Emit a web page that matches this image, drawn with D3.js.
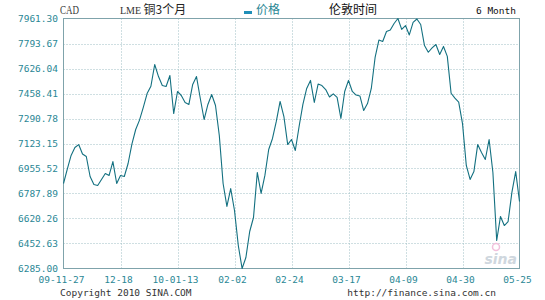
<!DOCTYPE html>
<html>
<head>
<meta charset="utf-8">
<script src="https://cdn.jsdelivr.net/npm/d3@7.9.0/dist/d3.min.js"></script>
<style>
  body { margin: 0; background: #fff; }
  svg text { font-family: "DejaVu Sans Mono", monospace; }
</style>
</head>
<body>
<svg id="chart" width="545" height="300"></svg>
<script>
// x tick labels, one every 15 trading days
const xLabels = ['09-11-27', '12-18', '10-01-13', '02-02', '02-24', '03-17', '04-09', '04-30', '05-25'];
const xTickIdx = [0, 15, 30, 45, 60, 75, 90, 105, 120];

const yTicks = [6285.00, 6452.63, 6620.26, 6787.89, 6955.52, 7123.15, 7290.78, 7458.41, 7626.04, 7793.67, 7961.30];

// LME copper 3-month, daily close
const prices = [
  6855, 6952, 7043, 7096, 7116, 7053, 7036, 6902, 6848, 6842,
  6882, 6922, 6909, 7002, 6855, 6909, 6902, 6989, 7119, 7217,
  7280, 7365, 7458, 7507, 7653, 7572, 7512, 7505, 7579, 7324,
  7472, 7445, 7398, 7385, 7519, 7572, 7425, 7284, 7385, 7452,
  7378, 7177, 6855, 6701, 6821, 6674, 6439, 6285, 6359, 6533,
  6627, 6929, 6788, 6909, 7083, 7157, 7271, 7405, 7304, 7116,
  7150, 7076, 7237, 7385, 7492, 7546, 7398, 7522, 7512, 7485,
  7435, 7456, 7432, 7291, 7472, 7546, 7472, 7448, 7442, 7344,
  7391, 7492, 7700, 7817, 7807, 7874, 7884, 7928, 7961.3, 7888,
  7914, 7851, 7935, 7958, 7921, 7780, 7735, 7764, 7787, 7720,
  7774, 7707, 7460, 7427, 7401, 7257, 6976, 6882, 6935, 7116,
  7063, 7016, 7150, 6929, 6473, 6634, 6573, 6600, 6795, 6935,
  6734
];

const svg = d3.select('#chart');
const plotL = 63.5, plotR = 519.5, plotT = 18.5, plotB = 268.5;

const x = d3.scaleLinear().domain([0, prices.length - 1]).range([plotL, plotR]);
const y = d3.scaleLinear().domain([yTicks[0], yTicks[yTicks.length - 1]]).range([plotB, plotT]);

const teal = '#2a8795';
const gridColor = '#9fbfc4';

// grid
svg.append('g').selectAll('line')
  .data(yTicks.slice(1, -1))
  .join('line')
  .attr('x1', plotL).attr('x2', plotR)
  .attr('y1', d => Math.round(y(d)) + 0.5).attr('y2', d => Math.round(y(d)) + 0.5)
  .attr('stroke', gridColor)
  .attr('stroke-dasharray', '1,2');

svg.append('g').selectAll('line')
  .data(xTickIdx.slice(1, -1))
  .join('line')
  .attr('x1', d => Math.round(x(d)) + 0.5).attr('x2', d => Math.round(x(d)) + 0.5)
  .attr('y1', plotT).attr('y2', plotB)
  .attr('stroke', gridColor)
  .attr('stroke-dasharray', '1,2');

// frame
svg.append('rect')
  .attr('x', plotL).attr('y', plotT)
  .attr('width', plotR - plotL).attr('height', plotB - plotT)
  .attr('fill', 'none')
  .attr('stroke', '#7fa3ab');

// watermark
svg.append('circle')
  .attr('cx', 496).attr('cy', 247).attr('r', 3.5)
  .attr('fill', 'none').attr('stroke', '#f2c0dc').attr('stroke-width', 1.5);
svg.append('text')
  .attr('x', 517).attr('y', 264)
  .attr('text-anchor', 'end')
  .style('font-family', '"DejaVu Sans", sans-serif')
  .style('font-style', 'italic')
  .style('font-weight', 'bold')
  .style('font-size', '14px')
  .attr('fill', '#cfd7de')
  .text('sina');

// price line
const line = d3.line()
  .x((d, i) => x(i))
  .y(d => y(d));

svg.append('path')
  .datum(prices)
  .attr('d', line)
  .attr('fill', 'none')
  .attr('stroke', '#137080')
  .attr('stroke-width', 1.1)
  .attr('stroke-linejoin', 'round');

// y labels
svg.append('g').selectAll('text')
  .data(yTicks)
  .join('text')
  .attr('x', 58)
  .attr('y', d => y(d) + 3.5)
  .attr('text-anchor', 'end')
  .attr('fill', teal)
  .style('font-size', '9.5px')
  .text(d => d.toFixed(2));

// x labels
svg.append('g').selectAll('text')
  .data(xTickIdx)
  .join('text')
  .attr('x', d => x(d) - 2)
  .attr('y', 283)
  .attr('text-anchor', 'middle')
  .attr('fill', teal)
  .style('font-size', '9.5px')
  .text((d, i) => xLabels[i]);

// header
const header = svg.append('g');
header.append('text')
  .attr('x', 60).attr('y', 14)
  .attr('textLength', 19).attr('lengthAdjust', 'spacingAndGlyphs')
  .style('font-family', '"Liberation Serif", serif')
  .style('font-size', '12px')
  .attr('fill', '#333')
  .text('CAD');
const title = header.append('text')
  .attr('x', 120).attr('y', 14)
  .attr('fill', '#333');
title.append('tspan')
  .style('font-family', '"Liberation Serif", serif')
  .style('font-size', '10px')
  .text('LME ');
title.append('tspan')
  .style('font-family', '"Noto Sans CJK SC", sans-serif')
  .style('font-size', '12px')
  .attr('fill', '#222')
  .text('铜3个月');
header.append('rect')
  .attr('x', 244).attr('y', 11).attr('width', 8).attr('height', 3)
  .attr('fill', '#1f8fb8');
header.append('text')
  .attr('x', 256).attr('y', 14)
  .style('font-family', '"Noto Sans CJK SC", sans-serif')
  .style('font-size', '12px')
  .attr('fill', teal)
  .text('价格');
header.append('text')
  .attr('x', 329).attr('y', 14)
  .style('font-family', '"Noto Sans CJK SC", sans-serif')
  .style('font-size', '12px')
  .attr('fill', '#111')
  .text('伦敦时间');
header.append('text')
  .attr('x', 516).attr('y', 14)
  .attr('text-anchor', 'end')
  .attr('fill', '#111')
  .style('font-size', '9.5px')
  .text('6 Month');

// footer
svg.append('text')
  .attr('x', 60).attr('y', 296)
  .attr('fill', '#333')
  .style('font-size', '9.5px')
  .text('Copyright 2010 SINA.COM');
svg.append('text')
  .attr('x', 496).attr('y', 296)
  .attr('text-anchor', 'end')
  .attr('fill', '#333')
  .style('font-size', '9.5px')
  .text('http://finance.sina.com.cn');
</script>
</body>
</html>
